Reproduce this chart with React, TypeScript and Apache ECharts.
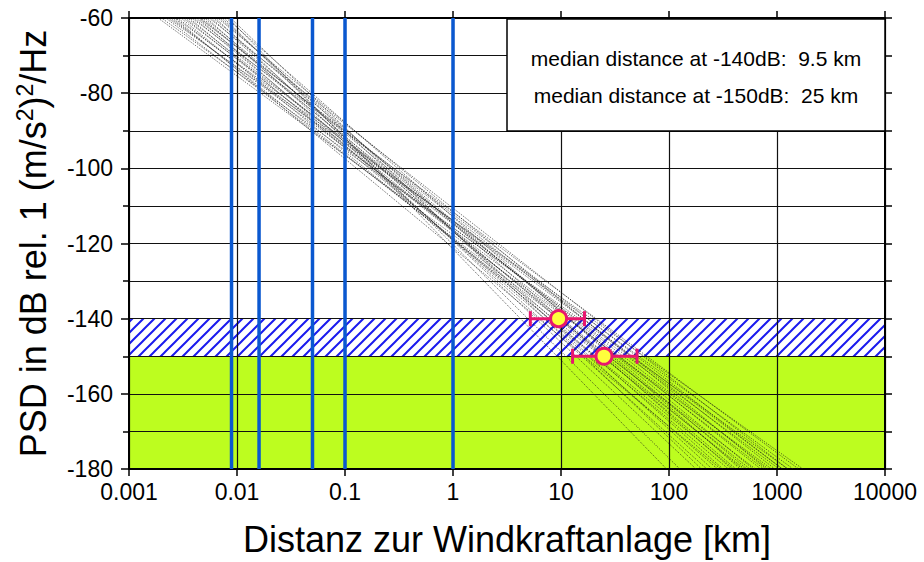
import React, { useEffect, useRef } from 'react';
import * as echarts from 'echarts';

// ---------- data ----------
const xTickLabels = ['0.001', '0.01', '0.1', '1', '10', '100', '1000', '10000'];
const yMin = -180;
const yMax = -60;

// individual attenuation curves (distance in km where the curve crosses -60 dB and -180 dB)
const curveDbStart = -60;
const curveDbEnd = -180;
const curveDistAtStart = [
  0.00186, 0.002, 0.00219, 0.0024, 0.00251, 0.00269, 0.00282, 0.00302, 0.00316, 0.00331, 0.00347,
  0.00363, 0.0038, 0.00398, 0.00417, 0.00437, 0.00457, 0.00479, 0.00501, 0.00525, 0.0055, 0.00575,
  0.00603, 0.00631, 0.00661, 0.00692, 0.00724, 0.00759, 0.00794, 0.00832, 0.00871, 0.00229, 0.00263,
  0.00447,
];
const curveDistAtEnd = [
  891, 1259, 631, 1047, 501, 1413, 759, 398, 1122, 562, 832, 355, 1585, 479, 708, 282, 955, 417, 603,
  224, 1259, 316, 525, 178, 794, 380, 251, 126, 457, 95, 200, 1738, 302, 1122,
];

// turbine distances (blue vertical lines)
const blueLineDist = [0.0089, 0.016, 0.05, 0.1, 1];

// median distances with spread
const medianLevels = [-140, -150];
const medianDist = [9.5, 25];
const errLow = [5.2, 12.8];
const errHigh = [16.5, 50.6];

// bands: [from dB, to dB]
const greenBand = [-180, -150];
const hatchBand = [-150, -140];

const legendLines = ['median distance at -140dB:  9.5 km', 'median distance at -150dB:  25 km'];

const FONT = '"Liberation Sans", Arial, Helvetica, sans-serif';

function makeHatch(): string {
  const s = 11;
  const c = document.createElement('canvas');
  c.width = s;
  c.height = s;
  const ctx = c.getContext('2d')!;
  ctx.strokeStyle = '#1a1aee';
  ctx.lineWidth = 2;
  ctx.beginPath();
  ctx.moveTo(-1, s + 1);
  ctx.lineTo(s + 1, -1);
  ctx.moveTo(-s / 2 - 1, s / 2 + 1);
  ctx.lineTo(s / 2 + 1, -s / 2 - 1);
  ctx.moveTo(s / 2 - 1, s * 1.5 + 1);
  ctx.lineTo(s * 1.5 + 1, s / 2 - 1);
  ctx.stroke();
  return c.toDataURL();
}

export default function App() {
  const ref = useRef<HTMLDivElement>(null);

  useEffect(() => {
    if (!ref.current) return;
    const chart = echarts.init(ref.current, undefined, { renderer: 'svg' });
    const hatchUrl = makeHatch();

    const bandData = [
      [1, greenBand[0], greenBand[1], 0],
      [1, hatchBand[0], hatchBand[1], 1],
    ];

    const curveSeries = curveDistAtStart.map((d0, i) => ({
      type: 'line',
      data: [
        [d0, curveDbStart],
        [curveDistAtEnd[i], curveDbEnd],
      ],
      showSymbol: false,
      symbol: 'none',
      silent: true,
      z: 3,
      lineStyle: { color: 'rgba(25,25,25,0.75)', width: 1, type: [1, 1.3] },
    }));

    const blueSeries = blueLineDist.map((d) => ({
      type: 'line',
      data: [
        [d, yMin],
        [d, yMax],
      ],
      showSymbol: false,
      symbol: 'none',
      silent: true,
      z: 4,
      lineStyle: { color: '#0a58d0', width: 3.5 },
    }));

    const axisCommonX = {
      type: 'log',
      logBase: 10,
      min: 0.001,
      max: 10000,
      splitNumber: 7,
    };

    const option: any = {
      animation: false,
      backgroundColor: '#fff',
      grid: { left: 129, right: 39, top: 18, bottom: 90, containLabel: false },
      xAxis: [
        {
          ...axisCommonX,
          position: 'bottom',
          z: 2,
          name: 'Distanz zur Windkraftanlage [km]',
          nameLocation: 'middle',
          nameGap: 52,
          nameTextStyle: { fontSize: 36, color: '#000', fontFamily: FONT },
          axisLine: { show: true, onZero: false, lineStyle: { color: '#000', width: 2 } },
          axisTick: { show: true, inside: false, length: 7, lineStyle: { color: '#000', width: 1.5 } },
          minorTick: { show: false },
          splitLine: { show: true, lineStyle: { color: '#111', width: 1.2 } },
          axisLabel: {
            color: '#000',
            fontSize: 23,
            fontFamily: FONT,
            margin: 11,
            formatter: (v: number) => xTickLabels[Math.round(Math.log10(v)) + 3] ?? '',
          },
        },
        {
          ...axisCommonX,
          position: 'top',
          z: 2,
          axisLine: { show: true, onZero: false, lineStyle: { color: '#000', width: 2 } },
          axisTick: { show: true, inside: false, length: 7, lineStyle: { color: '#000', width: 1.5 } },
          splitLine: { show: false },
          axisLabel: { show: false },
        },
      ],
      yAxis: [
        {
          type: 'value',
          min: yMin,
          max: yMax,
          interval: 20,
          position: 'left',
          z: 2,
          name: '{n|PSD in dB rel. 1 (m/s}{s|2}{n|)}{s|2}{n|/Hz}',
          nameLocation: 'middle',
          nameGap: 76,
          nameTextStyle: {
            color: '#000',
            fontFamily: FONT,
            rich: {
              n: { fontSize: 36, color: '#000', fontFamily: FONT, lineHeight: 40 },
              s: { fontSize: 23, color: '#000', fontFamily: FONT, verticalAlign: 'top', lineHeight: 40, padding: [0, 0, 14, 0] },
            },
          },
          axisLine: { show: true, onZero: false, lineStyle: { color: '#000', width: 2 } },
          axisTick: { show: true, inside: false, length: 8, lineStyle: { color: '#000', width: 1.5 } },
          minorTick: { show: true, splitNumber: 2, length: 6, lineStyle: { color: '#000', width: 1.5 } },
          splitLine: { show: true, lineStyle: { color: '#111', width: 1.2 } },
          minorSplitLine: { show: true, lineStyle: { color: '#111', width: 1.2 } },
          axisLabel: { color: '#000', fontSize: 23, fontFamily: FONT, margin: 16 },
        },
        {
          type: 'value',
          min: yMin,
          max: yMax,
          interval: 20,
          position: 'right',
          z: 2,
          axisLine: { show: true, onZero: false, lineStyle: { color: '#000', width: 2 } },
          axisTick: { show: true, inside: false, length: 7, lineStyle: { color: '#000', width: 1.5 } },
          minorTick: { show: true, splitNumber: 2, length: 7, lineStyle: { color: '#000', width: 1.5 } },
          splitLine: { show: false },
          axisLabel: { show: false },
        },
      ],
      series: [
        {
          type: 'custom',
          z: 1,
          silent: true,
          encode: { x: 0, y: [1, 2] },
          data: bandData,
          renderItem: (params: any, api: any) => {
            const cs = params.coordSys;
            const top = api.coord([1, api.value(2)])[1];
            const bottom = api.coord([1, api.value(1)])[1];
            const isHatch = api.value(3) === 1;
            return {
              type: 'rect',
              shape: { x: cs.x, y: top, width: cs.width, height: bottom - top },
              style: isHatch
                ? {
                    fill: { image: hatchUrl, repeat: 'repeat', imageWidth: 11, imageHeight: 11 },
                    stroke: null,
                  }
                : { fill: '#bdfd1f', stroke: null },
            };
          },
        },
        ...curveSeries,
        ...blueSeries,
        {
          type: 'custom',
          z: 5,
          silent: true,
          encode: { x: [0, 1], y: 2 },
          data: medianDist.map((_, i) => [errLow[i], errHigh[i], medianLevels[i]]),
          renderItem: (params: any, api: any) => {
            const p1 = api.coord([api.value(0), api.value(2)]);
            const p2 = api.coord([api.value(1), api.value(2)]);
            const st = { stroke: '#e8176e', lineWidth: 3 };
            const h = 7.5;
            return {
              type: 'group',
              children: [
                { type: 'line', shape: { x1: p1[0], y1: p1[1], x2: p2[0], y2: p2[1] }, style: st },
                { type: 'line', shape: { x1: p1[0], y1: p1[1] - h, x2: p1[0], y2: p1[1] + h }, style: st },
                { type: 'line', shape: { x1: p2[0], y1: p2[1] - h, x2: p2[0], y2: p2[1] + h }, style: st },
              ],
            };
          },
        },
        {
          type: 'scatter',
          z: 6,
          silent: true,
          symbol: 'circle',
          symbolSize: 16,
          data: medianDist.map((d, i) => [d, medianLevels[i]]),
          itemStyle: { color: '#ffff3c', borderColor: '#e8176e', borderWidth: 3, opacity: 1 },
        },
      ],
      graphic: [
        {
          type: 'rect',
          z: 100,
          shape: { x: 507, y: 19, width: 378, height: 112 },
          style: { fill: '#fff', stroke: '#000', lineWidth: 1.5 },
        },
        ...legendLines.map((t, i) => ({
          type: 'text',
          z: 101,
          x: 696,
          y: 58 + i * 37.5,
          style: {
            text: t,
            fontSize: 21,
            fontFamily: FONT,
            fill: '#000',
            align: 'center',
            verticalAlign: 'middle',
          },
        })),
      ],
    };

    chart.setOption(option);
    return () => chart.dispose();
  }, []);

  return (
    <div
      ref={ref}
      style={{ position: 'fixed', left: 0, top: 0, width: 924, height: 562, background: '#fff' }}
    />
  );
}
